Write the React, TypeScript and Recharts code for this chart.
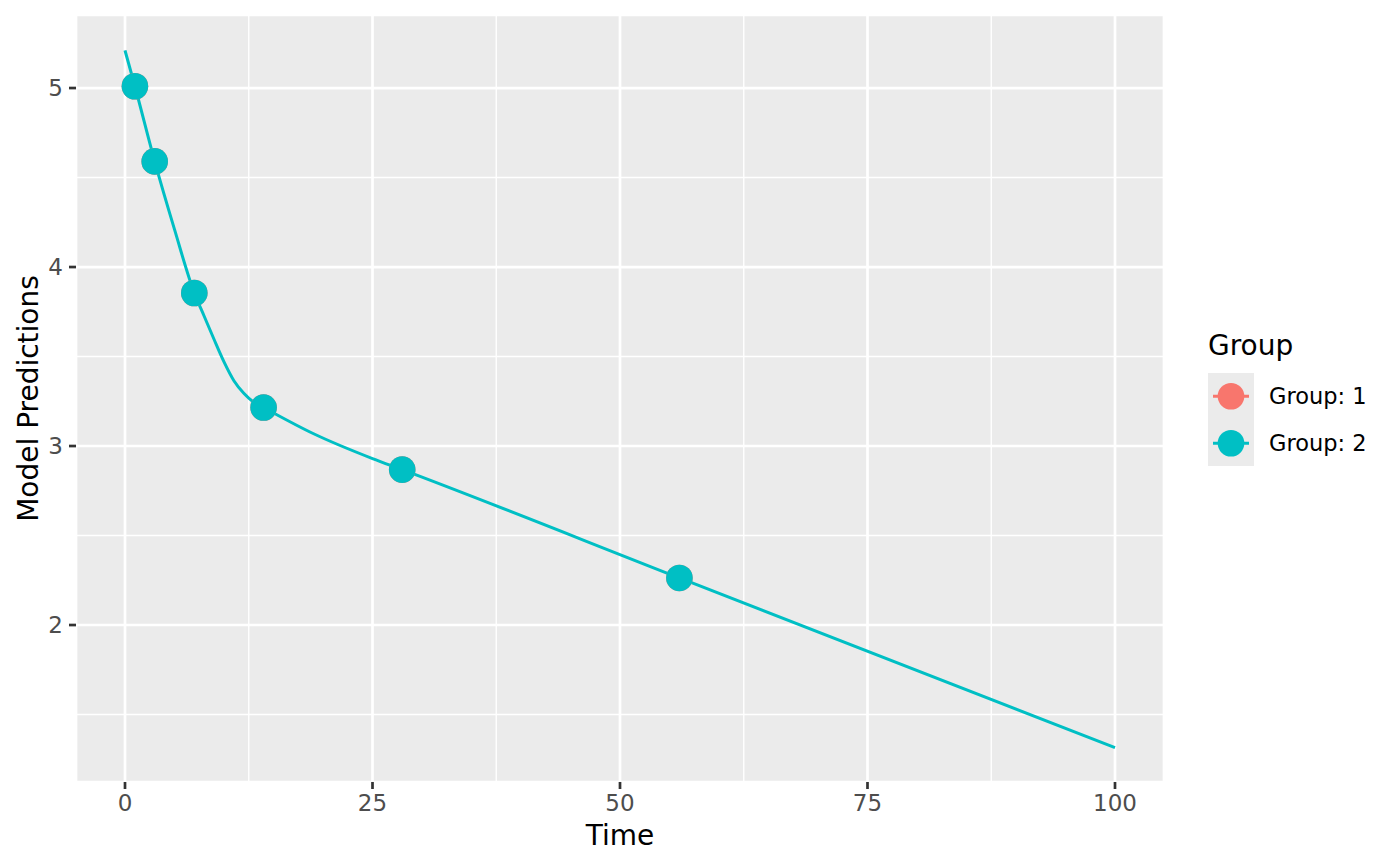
import {
  CartesianGrid,
  ComposedChart,
  Line,
  ReferenceLine,
  Scatter,
  XAxis,
  YAxis,
} from 'recharts';

const GROUP1_COLOR = '#F8766D';
const GROUP2_COLOR = '#00BFC4';
const FONT = '"DejaVu Sans", Verdana, sans-serif';

// fitted curve
const curveTimes = [0, 1, 3, 5, 7, 8, 9, 10, 11, 12, 13, 14, 19, 25, 28, 56, 100];
const curveValues = [5.21, 5.01, 4.59, 4.21, 3.855, 3.725, 3.595, 3.47, 3.365, 3.295, 3.245, 3.215, 3.07, 2.93, 2.868, 2.263, 1.315];

// observed points
const obsTimes = [1, 3, 7, 14, 28, 56];
const group1Values = [5.01, 4.59, 3.855, 3.215, 2.868, 2.263];
const group2Values = [5.01, 4.59, 3.855, 3.215, 2.868, 2.263];

const xTicks = [0, 25, 50, 75, 100];
const yTicks = [2, 3, 4, 5];
const xMinor = [12.5, 37.5, 62.5, 87.5];
const yMinor = [1.5, 2.5, 3.5, 4.5];

const groups = ['Group: 1', 'Group: 2'];

const curveData = curveTimes.map((t, i) => ({ time: t, value: curveValues[i] }));
const group1Data = obsTimes.map((t, i) => ({ time: t, value: group1Values[i] }));
const group2Data = obsTimes.map((t, i) => ({ time: t, value: group2Values[i] }));

const dot = (color: string) => (props: any) => (
  <circle cx={props.cx} cy={props.cy} r={13.3} fill={color} />
);

function GroupLegend() {
  const colors = [GROUP1_COLOR, GROUP2_COLOR];
  return (
    <div style={{ position: 'absolute', left: 1208, top: 329, fontFamily: FONT }}>
      <div style={{ fontSize: 28, color: '#000', lineHeight: '34px', marginBottom: 10 }}>Group</div>
      {groups.map((g, i) => (
        <div key={g} style={{ display: 'flex', alignItems: 'center', height: 46.5 }}>
          <svg width={46} height={46.5} style={{ background: '#EBEBEB', display: 'block' }}>
            <line x1={5} x2={41} y1={23.25} y2={23.25} stroke={colors[i]} strokeWidth={3} />
            <circle cx={23} cy={23.25} r={13.3} fill={colors[i]} />
          </svg>
          <span style={{ fontSize: 22.5, color: '#000', marginLeft: 15 }}>{g}</span>
        </div>
      ))}
    </div>
  );
}

export default function App() {
  return (
    <div style={{ position: 'absolute', left: 0, top: 0, width: 1400, height: 866, background: '#fff' }}>
      <ComposedChart
        width={1400}
        height={866}
        margin={{ top: 15, right: 236, bottom: 0, left: 0 }}
        style={{ fontFamily: FONT }}
      >
        <CartesianGrid fill="#EBEBEB" stroke="#FFFFFF" strokeWidth={2.7} />
        {xMinor.map((v) => (
          <ReferenceLine key={`vx${v}`} x={v} stroke="#FFFFFF" strokeWidth={1.4} />
        ))}
        {yMinor.map((v) => (
          <ReferenceLine key={`hy${v}`} y={v} stroke="#FFFFFF" strokeWidth={1.4} />
        ))}
        <XAxis
          type="number"
          dataKey="time"
          domain={[-4.95, 104.95]}
          ticks={xTicks}
          interval={0}
          allowDataOverflow
          height={84}
          axisLine={false}
          tickSize={7}
          tickMargin={6}
          tickLine={{ stroke: '#333333', strokeWidth: 2.7 }}
          tick={{ fill: '#4D4D4D', fontSize: 23, fontFamily: FONT }}
          label={({ viewBox }: any) => (
            <text
              x={viewBox.x + viewBox.width / 2}
              y={viewBox.y + 53}
              textAnchor="middle"
              dominantBaseline="central"
              fontSize={28}
              fontFamily={FONT}
              fill="#000"
            >
              Time
            </text>
          )}
        />
        <YAxis
          type="number"
          dataKey="value"
          domain={[1.123, 5.408]}
          ticks={yTicks}
          interval={0}
          allowDataOverflow
          width={76}
          axisLine={false}
          tickSize={7}
          tickMargin={6}
          tickLine={{ stroke: '#333333', strokeWidth: 2.7 }}
          tick={{ fill: '#4D4D4D', fontSize: 23, fontFamily: FONT }}
          label={({ viewBox }: any) => {
            const cx = viewBox.x + 28.5;
            const cy = viewBox.y + viewBox.height / 2;
            return (
              <text
                x={cx}
                y={cy}
                transform={`rotate(-90 ${cx} ${cy})`}
                textAnchor="middle"
                dominantBaseline="central"
                fontSize={28}
                fontFamily={FONT}
                fill="#000"
              >
                Model Predictions
              </text>
            );
          }}
        />
        <Line
          data={curveData}
          dataKey="value"
          type="monotone"
          stroke={GROUP2_COLOR}
          strokeWidth={3}
          dot={false}
          activeDot={false}
          isAnimationActive={false}
        />
        <Scatter data={group1Data} dataKey="value" fill={GROUP1_COLOR} shape={dot(GROUP1_COLOR)} isAnimationActive={false} />
        <Scatter data={group2Data} dataKey="value" fill={GROUP2_COLOR} shape={dot(GROUP2_COLOR)} isAnimationActive={false} />
      </ComposedChart>
      <GroupLegend />
    </div>
  );
}
